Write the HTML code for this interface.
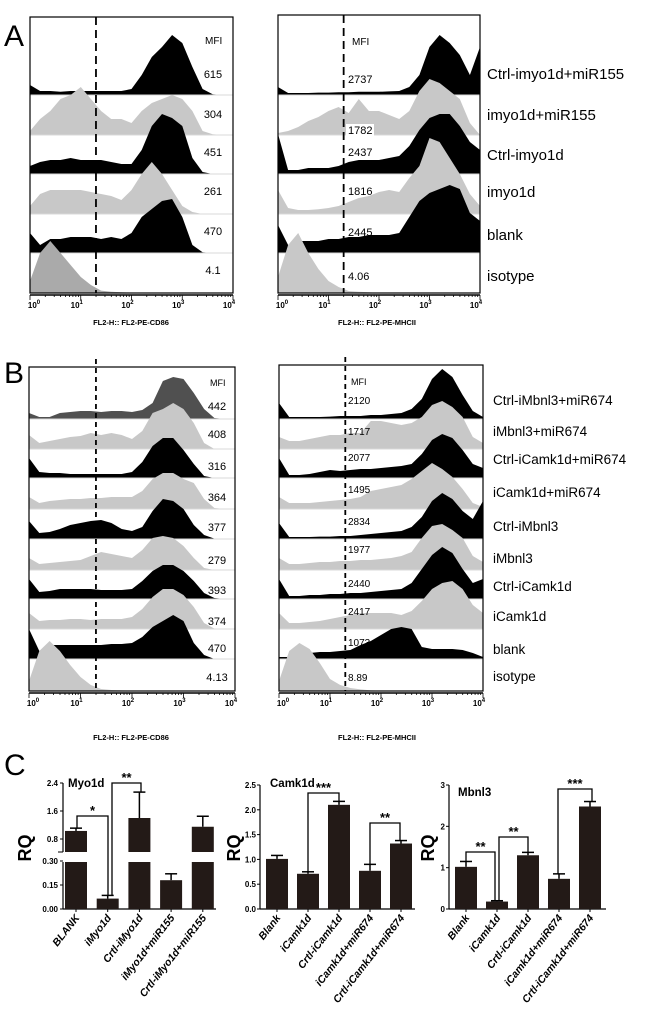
<!DOCTYPE html>
<html><head><meta charset="utf-8">
<style>
html,body{margin:0;padding:0;background:#fff;}
svg{display:block;font-family:"Liberation Sans",Arial,sans-serif;}
</style></head>
<body>
<svg id="fig" width="650" height="1011" viewBox="0 0 650 1011" xmlns="http://www.w3.org/2000/svg"></svg>
<script>
// ---------- Histogram data (relative height per row, at log10 = 0,0.2,...,4.0) ----------
const aLeftMFI = ["615","304","451","261","470","4.1"];
const aRightMFI = ["2737","1782","2437","1816","2445","4.06"];
const aLabels = ["Ctrl-imyo1d+miR155","imyo1d+miR155","Ctrl-imyo1d","imyo1d","blank","isotype"];
const aLeft1 = [0.25,0.1,0.1,0.08,0.1,0.1,0.1,0.1,0.1,0.1,0.15,0.5,0.95,1.2,1.5,1.3,0.7,0.15,0.02,0,0];
const aLeft2 = [0.1,0.4,0.6,0.9,1.0,1.2,0.9,0.6,0.4,0.4,0.3,0.6,0.8,0.9,1.0,0.9,0.6,0.1,0.02,0,0];
const aLeft3 = [0.2,0.3,0.35,0.35,0.4,0.35,0.35,0.35,0.3,0.25,0.25,0.6,1.2,1.5,1.4,1.2,0.4,0.05,0,0,0];
const aLeft4 = [0.2,0.5,0.6,0.6,0.6,0.6,0.55,0.5,0.45,0.35,0.6,1.0,1.3,1.0,0.6,0.2,0.05,0,0,0,0];
const aLeft5 = [0.5,0.2,0.35,0.35,0.4,0.4,0.4,0.35,0.4,0.35,0.5,0.9,1.1,1.3,1.35,0.9,0.2,0.02,0,0,0];
const aLeft6 = [0.3,1.0,1.3,1.0,0.7,0.4,0.2,0.06,0.03,0.02,0.01,0,0,0,0,0,0,0,0,0,0];
const aRight1 = [0.2,0.05,0.05,0.05,0.06,0.06,0.07,0.07,0.08,0.08,0.08,0.09,0.1,0.2,0.5,1.2,1.5,1.3,1.0,0.5,1.2];
const aRight2 = [0.05,0.1,0.2,0.35,0.45,0.6,0.7,0.55,0.9,0.6,0.6,0.5,0.4,0.6,1.1,1.4,1.3,1.1,0.9,0.3,0];
const aRight3 = [1.0,0.1,0.1,0.15,0.15,0.15,0.2,0.3,0.35,0.35,0.35,0.4,0.45,0.7,1.1,1.4,1.5,1.5,1.2,0.8,0.6];
const aRight4 = [0.6,0.15,0.1,0.1,0.12,0.15,0.2,0.3,0.4,0.45,0.55,0.6,0.55,0.9,1.2,1.9,1.8,1.4,1.0,0.5,0.2];
const aRight5 = [0.7,0.2,0.3,0.3,0.3,0.35,0.35,0.4,0.4,0.45,0.45,0.45,0.5,0.9,1.3,1.5,1.6,1.7,1.6,1.0,0.8];
const aRight6 = [0.4,1.2,1.5,1.0,0.6,0.3,0.15,0.05,0.03,0.02,0,0,0,0,0,0,0,0,0,0,0];

const bLeftMFI = ["442","408","316","364","377","279","393","374","470","4.13"];
const bRightMFI = ["2120","1717","2077","1495","2834","1977","2440","2417","1073","8.89"];
const bLabels = ["Ctrl-iMbnl3+miR674","iMbnl3+miR674","Ctrl-iCamk1d+miR674","iCamk1d+miR674","Ctrl-iMbnl3","iMbnl3","Ctrl-iCamk1d","iCamk1d","blank","isotype"];
const bLeft1 = [0.3,0.1,0.1,0.3,0.35,0.4,0.4,0.35,0.4,0.4,0.35,0.45,0.8,1.9,2.1,2.0,1.3,0.5,0.05,0,0];
const bLeft2 = [0.7,0.3,0.4,0.5,0.6,0.65,0.8,0.7,0.8,0.7,0.5,0.9,1.8,2.0,2.3,2.0,1.3,0.3,0,0,0];
const bLeft3 = [1.0,0.3,0.25,0.25,0.2,0.2,0.2,0.2,0.2,0.2,0.3,0.8,1.6,2.0,2.0,1.4,0.7,0.1,0,0,0];
const bLeft4 = [0.6,0.3,0.4,0.45,0.5,0.5,0.55,0.55,0.6,0.6,0.6,0.9,1.5,1.8,1.8,1.5,1.3,0.5,0.05,0,0];
const bLeft5 = [0.9,0.3,0.35,0.5,0.7,0.8,0.9,0.95,0.8,0.5,0.4,0.6,1.4,2.0,1.9,1.5,0.7,0.2,0.02,0,0];
const bLeft6 = [0.6,0.3,0.35,0.4,0.45,0.5,0.7,0.9,0.8,0.7,0.6,1.0,1.6,1.7,1.6,1.2,0.6,0.1,0,0,0];
const bLeft7 = [1.0,0.35,0.4,0.5,0.5,0.5,0.5,0.45,0.45,0.45,0.5,0.9,1.4,1.7,1.7,1.4,0.9,0.3,0.05,0,0];
const bLeft8 = [0.8,0.4,0.45,0.45,0.5,0.5,0.45,0.5,0.5,0.5,0.6,1.0,1.6,2.0,2.0,1.7,1.1,0.3,0.02,0,0];
const bLeft9 = [1.5,0.4,0.7,0.7,0.7,0.7,0.7,0.7,0.75,0.75,0.8,1.1,1.6,1.9,2.2,1.9,0.8,0.2,0,0,0];
const bLeft10 = [0.5,2.0,2.5,2.0,1.3,0.7,0.3,0.1,0.05,0.03,0.02,0,0,0,0,0,0,0,0,0,0];
const bRight1 = [0.8,0.1,0.1,0.1,0.1,0.12,0.15,0.15,0.15,0.2,0.2,0.25,0.3,0.5,1.0,2.0,2.5,2.1,1.2,0.4,0.1];
const bRight2 = [0.6,0.4,0.4,0.5,0.6,0.7,0.7,0.8,0.8,1.4,1.4,1.3,1.2,1.3,1.6,2.2,2.4,2.1,1.6,0.6,0.3];
const bRight3 = [1.0,0.15,0.15,0.2,0.3,0.4,0.35,0.4,0.45,0.45,0.5,0.55,0.6,0.7,1.2,1.9,2.2,2.0,1.4,0.7,0.5];
const bRight4 = [0.6,0.3,0.3,0.3,0.35,0.4,0.45,0.5,0.6,0.9,1.0,1.1,1.2,1.5,1.9,2.3,2.0,1.6,1.0,0.3,0.1];
const bRight5 = [0.8,0.1,0.1,0.1,0.12,0.12,0.15,0.15,0.2,0.25,0.3,0.35,0.4,0.6,1.1,1.9,2.3,2.0,1.4,1.0,1.9];
const bRight6 = [0.6,0.3,0.3,0.35,0.4,0.4,0.45,0.45,0.5,0.5,0.55,0.6,0.7,0.9,1.6,2.2,2.3,2.0,1.6,0.7,0.4];
const bRight7 = [1.0,0.15,0.15,0.2,0.2,0.25,0.25,0.3,0.3,0.35,0.4,0.45,0.5,0.8,1.5,2.2,2.6,2.3,1.5,0.8,1.0];
const bRight8 = [0.8,0.3,0.3,0.35,0.4,0.5,0.6,0.7,0.8,0.8,0.8,0.8,0.7,0.9,1.4,2.0,2.3,2.4,2.0,1.2,0.8];
const bRight9 = [0.1,0.1,0.2,0.3,0.35,0.35,0.4,0.45,0.7,0.9,1.2,1.5,1.6,1.5,0.6,0.5,0.5,0.5,0.45,0.3,0.1];
const bRight10 = [0.5,2.0,2.4,2.1,1.4,0.6,0.3,0.15,0.08,0.03,0.02,0,0,0,0,0,0,0,0,0,0];

// ---------- Bar chart data ----------
const myoCats = ["BLANK","iMyo1d","Crtl-iMyo1d","iMyo1d+miR155","Crtl-iMyo1d+miR155"];
const myoVals = [1.03,0.065,1.4,0.18,1.15];
const myoErr = [1.11,0.085,2.14,0.22,1.45];
const myoTopTicks = [0.8,1.6,2.4];
const myoLowTicks = [0,0.15,0.30];
const camCats = ["Blank","iCamk1d","Crtl-iCamk1d","iCamk1d+miR674","Crtl-iCamk1d+miR674"];
const camVals = [1.01,0.71,2.1,0.77,1.32];
const camErr = [1.08,0.75,2.17,0.9,1.38];
const camTicks = [0,0.5,1.0,1.5,2.0,2.5];
const mbnCats = ["Blank","iCamk1d","Crtl-iCamk1d","iCamk1d+miR674","Crtl-iCamk1d+miR674"];
const mbnVals = [1.02,0.18,1.3,0.73,2.48];
const mbnErr = [1.15,0.2,1.37,0.85,2.6];
const mbnTicks = [0,1,2,3];

const NS="http://www.w3.org/2000/svg";
const svg=document.getElementById('fig');
function el(tag,attrs,parent){const e=document.createElementNS(NS,tag);for(const k in attrs)e.setAttribute(k,attrs[k]);(parent||svg).appendChild(e);return e;}
function txt(s,x,y,attrs,parent){const t=el('text',Object.assign({x:x,y:y},attrs||{}),parent);t.textContent=s;return t;}

const BLACK="#000",GRAY="#c8c8c8",DGRAY="#aaaaaa",DARK="#505050";

function histPanel(name,x0,x1,top,baselines,unit,rows,colors,withMFI){
  const g=el('g',{});
  
  
  const xs=v=>x0+(x1-x0)*v/4;
  rows.forEach((vals,i)=>{
    const by=baselines[i];
    let d='M'+x0+','+by;
    vals.forEach((v,j)=>{d+=' L'+xs(j*0.2).toFixed(1)+','+(by-v*unit).toFixed(1);});
    d+=' L'+x1+','+by+' Z';
    const p=el('path',{d:d,fill:colors[i],stroke:'none'},g);
    
    
    el('line',{x1:x0,y1:by,x2:x1,y2:by,stroke:'#d8d8d8','stroke-width':1},g);
  });
  el('rect',{x:x0,y:top,width:x1-x0,height:baselines[baselines.length-1]-top,fill:'none',stroke:'#000','stroke-width':1.2},g);
  const ab=baselines[baselines.length-1];
  el('line',{x1:x0,y1:ab+2,x2:x1,y2:ab+2,stroke:'#000','stroke-width':1.5},g);
  for(let d=0;d<4;d++){for(let m=1;m<10;m++){const xx=xs(d+Math.log10(m));el('line',{x1:xx,y1:ab+2,x2:xx,y2:ab+(m===1?7:4),stroke:'#000','stroke-width':0.8},g);}}
  el('line',{x1:x1,y1:ab+2,x2:x1,y2:ab+7,stroke:'#000','stroke-width':0.8},g);
  for(let d=0;d<=4;d++){
    const t=txt('10',xs(d)+(d===0?4:-4),ab+15,{'font-size':8,'font-weight':'bold','text-anchor':'middle'},g);
    const s=el('tspan',{dy:-4,'font-size':6},t);s.textContent=String(d);
  }
  el('line',{x1:xs(1.3),y1:top-(withMFI==='B'?8:0),x2:xs(1.3),y2:ab,stroke:'#000','stroke-width':1.8,'stroke-dasharray':withMFI==='A'?'8,5':'5,4'},g);
  return g;
}

txt('A',4,46,{'font-size':30});
txt('B',4,383,{'font-size':30});
txt('C',4,775,{'font-size':30});

// Panel A
const aBase=[95,135,174,214,253,293];
histPanel('cd86-histograms-a',30,233,17,aBase,40,[aLeft1,aLeft2,aLeft3,aLeft4,aLeft5,aLeft6],[BLACK,GRAY,BLACK,GRAY,BLACK,DGRAY],'A');
histPanel('mhcii-histograms-a',278,480,15,aBase,40,[aRight1,aRight2,aRight3,aRight4,aRight5,aRight6],[BLACK,GRAY,BLACK,GRAY,BLACK,GRAY],'A');
txt('MFI',205,44,{'font-size':10});
const aLY=[78,118,156,195,235,274];
aLeftMFI.forEach((m,i)=>{const t=txt(m,213,aLY[i],{'font-size':11,'text-anchor':'middle'});});
txt('MFI',352,45,{'font-size':10});
const aRY=[83,134,156,195,236,280];
aRightMFI.forEach((m,i)=>{if(i===1)el('rect',{x:346,y:aRY[i]-10,width:28,height:13,fill:'#fff'});txt(m,348,aRY[i],{'font-size':11});});
const aLabY=[79,120,160,197,240,281];
aLabels.forEach((l,i)=>{const t=txt(l,487,aLabY[i],{'font-size':15});});
txt('FL2-H:: FL2-PE-CD86',131,325,{'font-size':7.5,'font-weight':'bold','text-anchor':'middle'});
txt('FL2-H:: FL2-PE-MHCII',377,325,{'font-size':7.5,'font-weight':'bold','text-anchor':'middle'});

// Panel B
const bBase=[419,449,478,509,539,570,599,629,659,691];
histPanel('cd86-histograms-b',29,235,367,bBase,20,[bLeft1,bLeft2,bLeft3,bLeft4,bLeft5,bLeft6,bLeft7,bLeft8,bLeft9,bLeft10],[DARK,GRAY,BLACK,GRAY,BLACK,GRAY,BLACK,GRAY,BLACK,GRAY],'B');
histPanel('mhcii-histograms-b',279,483,365,bBase,20,[bRight1,bRight2,bRight3,bRight4,bRight5,bRight6,bRight7,bRight8,bRight9,bRight10],[BLACK,GRAY,BLACK,GRAY,BLACK,GRAY,BLACK,GRAY,BLACK,GRAY],'B');
txt('MFI',210,386,{'font-size':9});
const bLY=[410,438,470,501,531,564,594,625,652,681];
bLeftMFI.forEach((m,i)=>{txt(m,217,bLY[i],{'font-size':11,'text-anchor':'middle'});});
txt('MFI',351,385,{'font-size':9});
const bRY=[404,435,461,493,525,553,587,615,646,681];
bRightMFI.forEach((m,i)=>{txt(m,348,bRY[i],{'font-size':10});});
const bLabY=[405,436,464,497,531,563,591,621,654,681];
bLabels.forEach((l,i)=>{const t=txt(l,493,bLabY[i],{'font-size':13.5});});
txt('FL2-H:: FL2-PE-CD86',131,740,{'font-size':7.5,'font-weight':'bold','text-anchor':'middle'});
txt('FL2-H:: FL2-PE-MHCII',377,740,{'font-size':7.5,'font-weight':'bold','text-anchor':'middle'});

// ---------- Bar charts ----------
const BARC="#231a17";
function barChart(name,ax,xEnd,firstX,step,yScale,vals,errs,cats,title,titleXY,rqX){
  const g=el('g',{});
  
  
  const y0=909;
  el('line',{x1:ax,y1:y0,x2:xEnd,y2:y0,stroke:'#000','stroke-width':1.2},g);
  vals.forEach((v,i)=>{
    const cx=firstX+step*i;
    yScale.bars(g,cx,v);
    const ey=yScale.y(errs[i]), vy=yScale.y(v);
    el('line',{x1:cx,y1:vy,x2:cx,y2:ey,stroke:'#000','stroke-width':1.5},g);
    el('line',{x1:cx-6,y1:ey,x2:cx+6,y2:ey,stroke:'#000','stroke-width':1.5},g);
    el('line',{x1:cx,y1:y0,x2:cx,y2:y0+3,stroke:'#000','stroke-width':1},g);
    const t=txt(cats[i],cx+4,y0+9,{'font-size':10.5,'font-weight':'bold','font-style':'italic','text-anchor':'end',transform:'rotate(-52 '+(cx+4)+' '+(y0+9)+')'},g);
    
  });
  txt(title,titleXY[0],titleXY[1],{'font-size':11.5,'font-weight':'bold'},g);
  txt('RQ',rqX,848,{'font-size':18,'font-weight':'bold','text-anchor':'middle',transform:'rotate(-90 '+rqX+' 848)'},g);
  return g;
}
function bracket(g,x1,x2,y,yl,yr,stars){
  el('polyline',{points:x1+','+yl+' '+x1+','+y+' '+x2+','+y+' '+x2+','+yr,fill:'none',stroke:'#000','stroke-width':1.3},g);
  txt(stars,(x1+x2)/2,y-1,{'font-size':13,'font-weight':'bold','text-anchor':'middle'},g);
}
function simpleScale(ax,max,top,ticks,g,fmt){
  const y=v=>909-(909-top)*v/max;
  el('line',{x1:ax,y1:top,x2:ax,y2:909,stroke:'#000','stroke-width':1.2},g);
  ticks.forEach(t=>{el('line',{x1:ax-3,y1:y(t),x2:ax,y2:y(t),stroke:'#000'},g);txt(fmt(t),ax-4,y(t)+3,{'font-size':8,'font-weight':'bold','text-anchor':'end'},g);});
  return {y:y,bars:(gg,cx,v)=>{const r=el('rect',{x:cx-11,y:y(v),width:22,height:909-y(v),fill:BARC},gg);}};
}
const g1=el('g',{});
const myoY=v=>v<=0.3?909-160*v:839-35*(v-0.8);
el('line',{x1:63,y1:783,x2:63,y2:852,stroke:'#000','stroke-width':1.2},g1);
el('line',{x1:63,y1:862,x2:63,y2:909,stroke:'#000','stroke-width':1.2},g1);
el('line',{x1:58,y1:852,x2:63,y2:852,stroke:'#000'},g1);
myoTopTicks.forEach(t=>{el('line',{x1:60,y1:myoY(t),x2:63,y2:myoY(t),stroke:'#000'},g1);txt(t.toFixed(1),58,myoY(t)+3,{'font-size':8,'font-weight':'bold','text-anchor':'end'},g1);});
myoLowTicks.forEach(t=>{el('line',{x1:60,y1:myoY(t),x2:63,y2:myoY(t),stroke:'#000'},g1);txt(t.toFixed(2),58,myoY(t)+3,{'font-size':8,'font-weight':'bold','text-anchor':'end'},g1);});
const myoScale={y:myoY,bars:(gg,cx,v)=>{
  if(v<=0.3){const r=el('rect',{x:cx-11,y:myoY(v),width:22,height:909-myoY(v),fill:BARC},gg);}
  else{const r=el('rect',{x:cx-11,y:862,width:22,height:47,fill:BARC},gg);
       const r2=el('rect',{x:cx-11,y:myoY(v),width:22,height:852-myoY(v),fill:BARC},gg);}
}};
const c1=barChart('myo1d-bar-chart',63,216,76,31.7,myoScale,myoVals,myoErr,myoCats,'Myo1d',[68,787],31);
bracket(c1,77,108,816,myoY(myoErr[0]),myoY(myoErr[1]),'*');
bracket(c1,112,141,783,myoY(myoErr[1]),myoY(myoErr[2]),'**');

const g2=el('g',{});
const camScale=simpleScale(260,2.5,785,camTicks,g2,t=>t.toFixed(1));
const c2=barChart('camk1d-bar-chart',260,415,277,31,camScale,camVals,camErr,camCats,'Camk1d',[270,787],240);
bracket(c2,308,339,793,camScale.y(camErr[1]),camScale.y(camErr[2]),'***');
bracket(c2,370,400,823,camScale.y(camErr[3]),camScale.y(camErr[4]),'**');

const g3=el('g',{});
const mbnScale=simpleScale(449,3,785,mbnTicks,g3,t=>String(t));
const c3=barChart('mbnl3-bar-chart',449,606,466,31,mbnScale,mbnVals,mbnErr,mbnCats,'Mbnl3',[458,796],434);
bracket(c3,466,495,852,mbnScale.y(mbnErr[0]),mbnScale.y(mbnErr[1]),'**');
bracket(c3,499,528,837,mbnScale.y(mbnErr[1]),mbnScale.y(mbnErr[2]),'**');
bracket(c3,558,592,789,mbnScale.y(mbnErr[3]),mbnScale.y(mbnErr[4]),'***');
</script>
</body></html>
